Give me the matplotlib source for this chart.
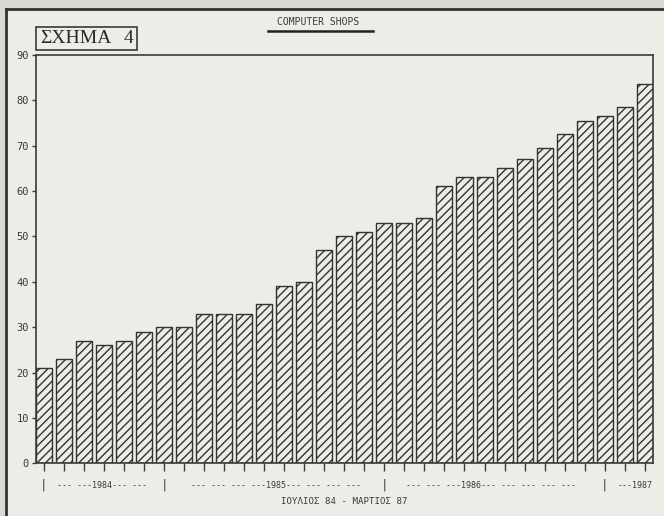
import numpy as np
import matplotlib
matplotlib.use("Agg")
import matplotlib.pyplot as plt
from matplotlib.patches import Rectangle
from matplotlib.transforms import blended_transform_factory

# μηνιαίες τιμές, Ιούλιος 84 - Μάρτιος 87
values = [21, 23, 27, 26, 27, 29, 30, 30, 33, 33, 33, 35, 39, 40, 47, 50,
          51, 53, 53, 54, 61, 63, 63, 65, 67, 69.5, 72.5, 75.5, 76.5, 78.5, 83.5]
y_ticks = [0, 10, 20, 30, 40, 50, 60, 70, 80, 90]
# χρονιές: (θέση κέντρου, κείμενο) και διαχωριστικά "|"
year_labels = [(2.9, "--- ---1984--- ---"),
               (11.6, "--- --- --- ---1985--- --- --- ---"),
               (22.3, "--- --- ---1986--- --- --- --- ---"),
               (29.5, "---1987")]
year_breaks = [0, 6, 17, 28]

title = "COMPUTER SHOPS"
fig_word = "ΣΧΗΜΑ"
fig_num = "4"
x_label = "ΙΟΥΛΙΟΣ 84 - ΜΑΡΤΙΟΣ 87"

paper = "#eeece7"
ink = "#3a3a3a"
mono = ["DejaVu Sans Mono"]

plt.rcParams["hatch.color"] = "#666666"
plt.rcParams["hatch.linewidth"] = 1.0

fig = plt.figure(figsize=(6.64, 5.16), dpi=100, facecolor=paper)
ax = fig.add_axes([0.0542, 0.1019, 0.9288, 0.7921])
ax.set_facecolor(paper)

x = np.arange(len(values))
ax.bar(x, values, width=0.8, color=paper, edgecolor="#333333",
       linewidth=1.0, hatch="////")

ax.set_xlim(-0.4, len(values) - 0.6)
ax.set_ylim(0, 90)
ax.set_yticks(y_ticks)
ax.set_yticklabels([str(v) for v in y_ticks], family=mono, fontsize=7.5, color=ink)
ax.set_xticks(x)
ax.set_xticklabels([])
ax.tick_params(axis="y", direction="out", length=3, width=1, color=ink, pad=2)
ax.tick_params(axis="x", direction="out", length=6, width=1, color=ink)
for s in ax.spines.values():
    s.set_color(ink)
    s.set_linewidth(1.2)

# σειρά με τις χρονιές κάτω από τον άξονα
tr = blended_transform_factory(ax.transData, fig.transFigure)
for pos, txt in year_labels:
    ax.text(pos, 0.059, txt, transform=tr, ha="center", va="center",
            family=mono, fontsize=6.0, color=ink)
for b in year_breaks:
    ax.text(b, 0.060, "|", transform=tr, ha="center", va="center",
            family=mono, fontsize=9, color=ink)

fig.text(0.519, 0.029, x_label, ha="center", va="center",
         family=mono, fontsize=6.6, color=ink)

# τίτλος με υπογράμμιση
fig.text(0.479, 0.958, title, ha="center", va="center",
         family=mono, fontsize=7, color=ink)
fig.add_artist(plt.Line2D([0.404, 0.561], [0.939, 0.939],
                          transform=fig.transFigure, color="#222222", lw=1.8))

# πλαίσιο "ΣΧΗΜΑ 4"
fig.add_artist(Rectangle((0.0542, 0.9031), 0.152, 0.0446, transform=fig.transFigure,
                         fill=False, edgecolor=ink, lw=1.2))
fig.text(0.060, 0.9245, fig_word, ha="left", va="center",
         family=["Liberation Serif", "DejaVu Serif"], fontsize=14, color="#2a2a2a")
fig.text(0.194, 0.9245, fig_num, ha="center", va="center",
         family=["Liberation Serif", "DejaVu Serif"], fontsize=14, color="#2a2a2a")

# περιθώριο σελίδας (αριστερά και πάνω)
edge = "#dad8d3"
fig.add_artist(Rectangle((0, 0), 0.009, 1, transform=fig.transFigure,
                         facecolor=edge, edgecolor="none"))
fig.add_artist(Rectangle((0, 0.983), 1, 0.017, transform=fig.transFigure,
                         facecolor=edge, edgecolor="none"))
fig.add_artist(plt.Line2D([0.009, 0.009], [0, 0.983], transform=fig.transFigure,
                          color="#333333", lw=2.0))
fig.add_artist(plt.Line2D([0.009, 1], [0.983, 0.983], transform=fig.transFigure,
                          color="#333333", lw=2.0))

fig.savefig("out.png", dpi=100, facecolor=paper)
